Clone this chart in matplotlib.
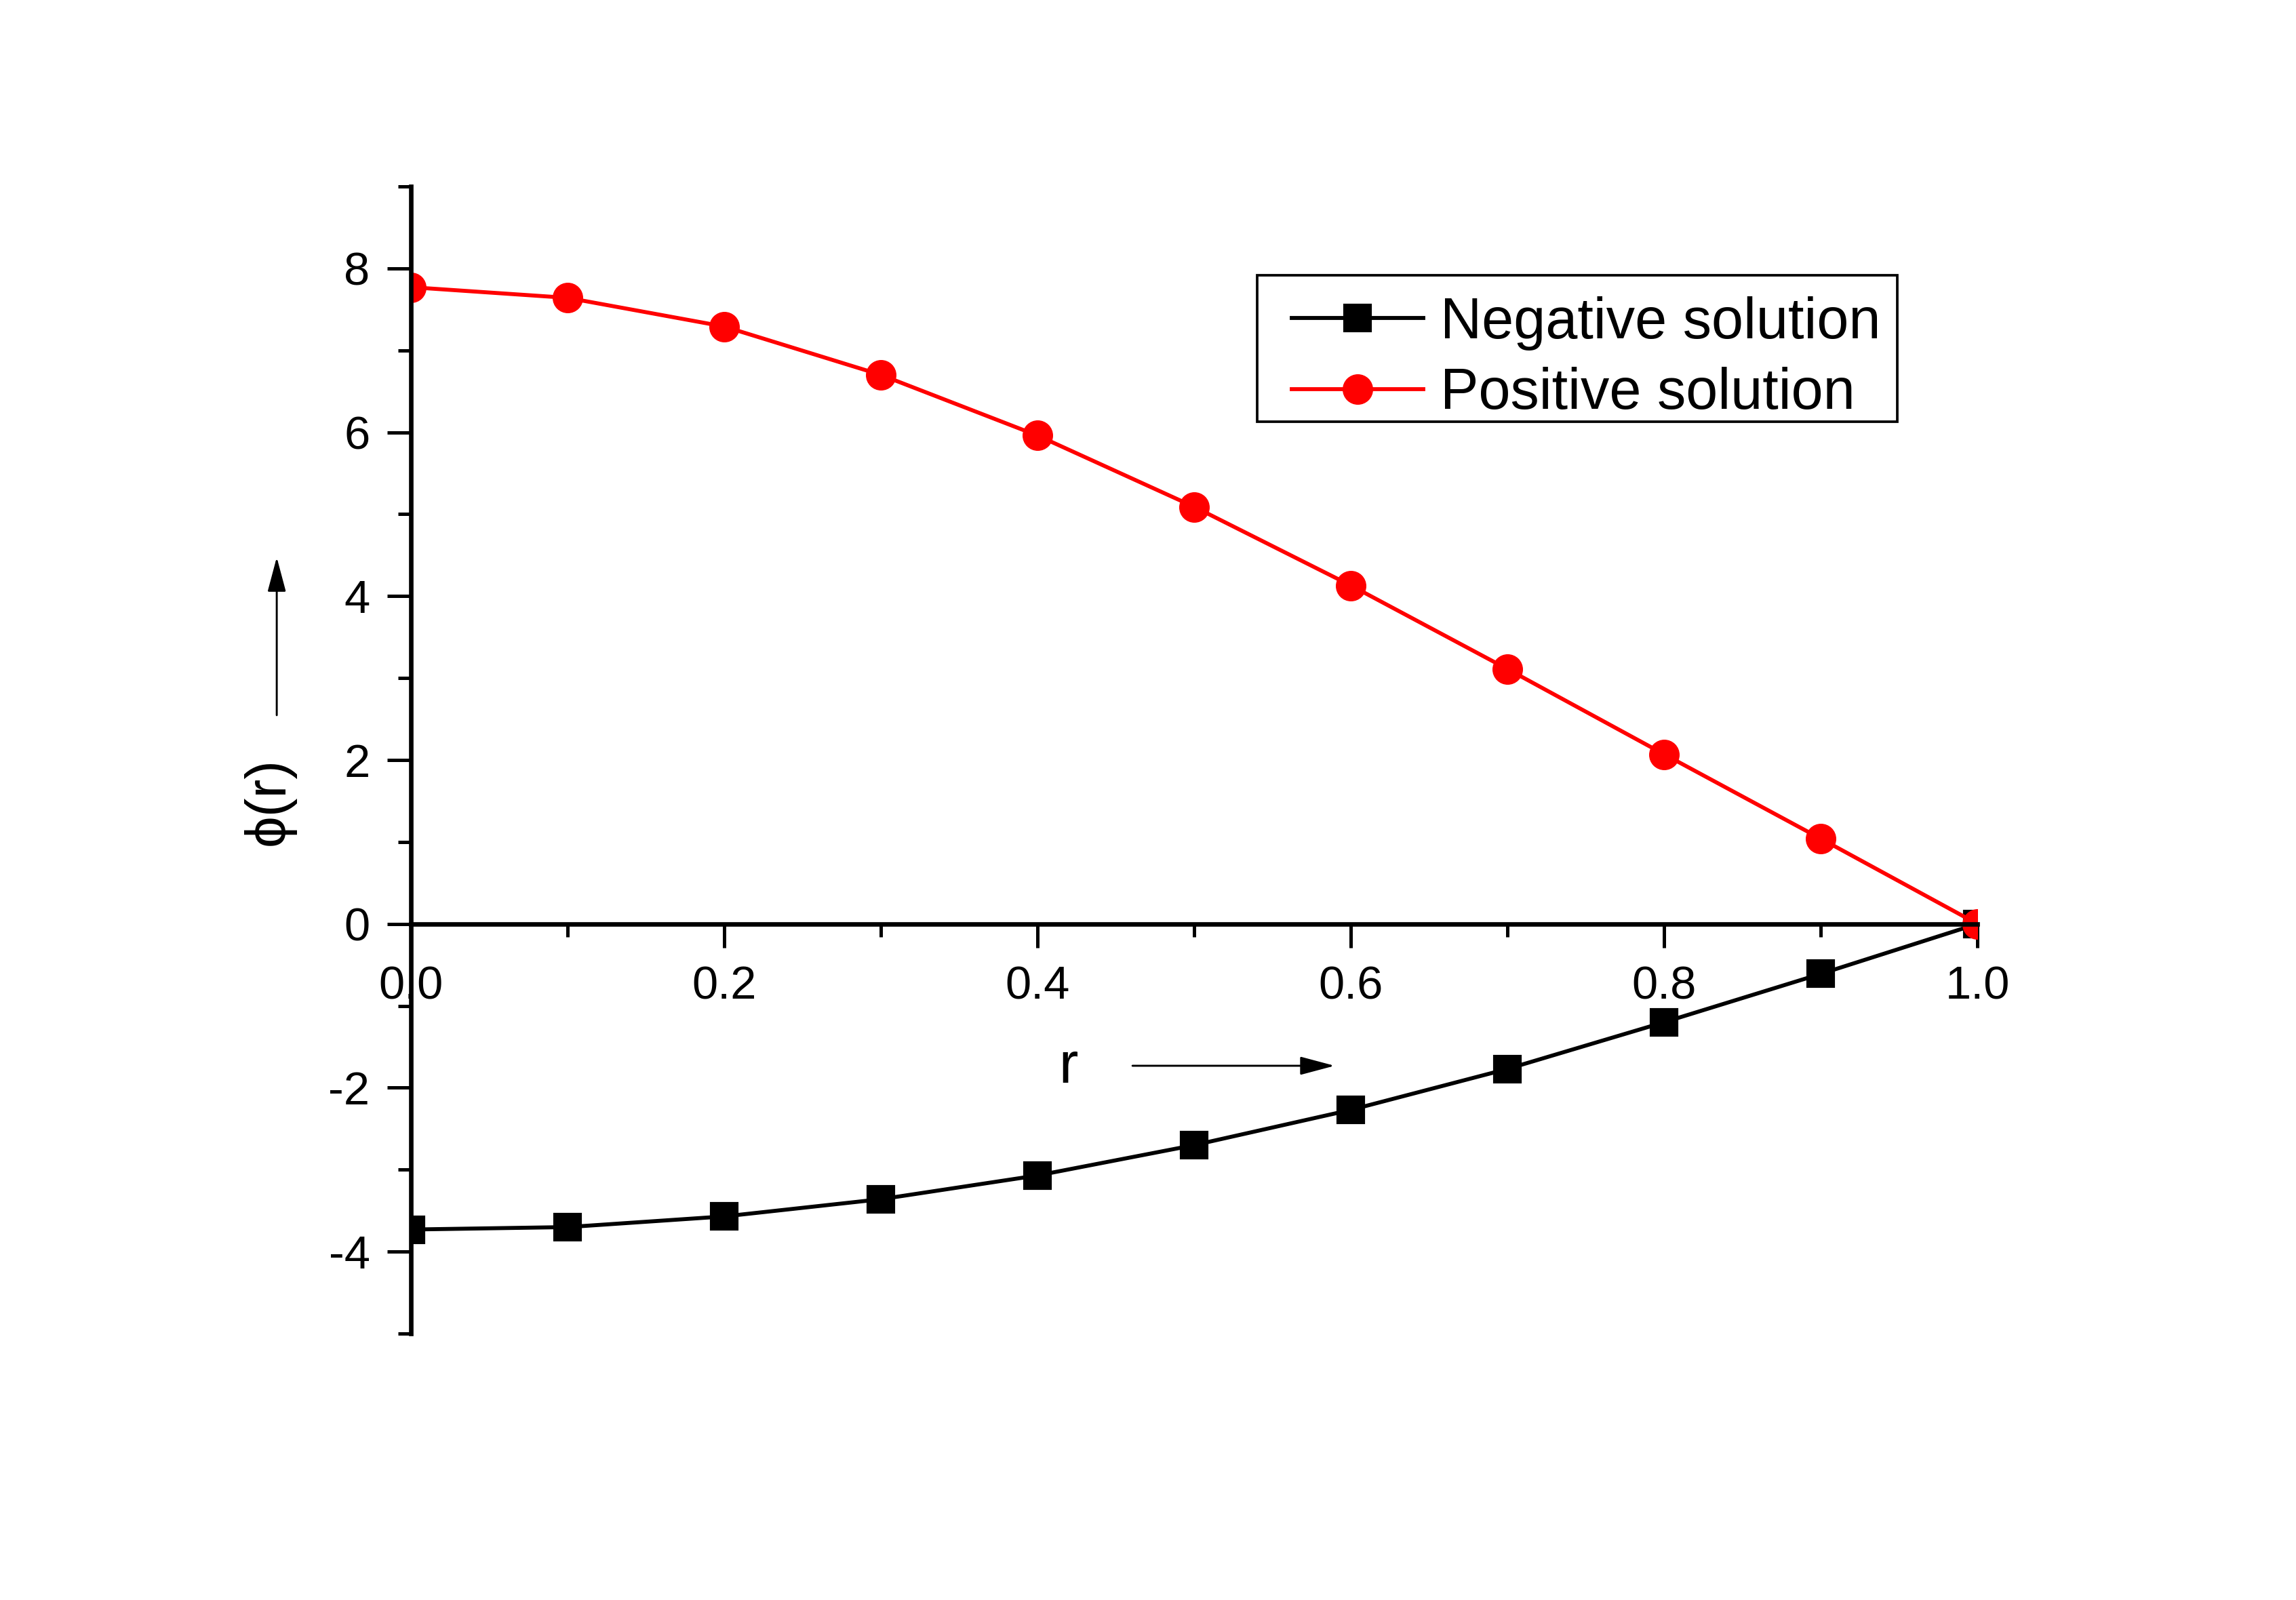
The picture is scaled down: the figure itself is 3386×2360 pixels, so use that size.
import matplotlib
matplotlib.use('Agg')
import matplotlib.pyplot as plt
from matplotlib.patches import FancyArrowPatch, Rectangle
from matplotlib.ticker import MultipleLocator

plt.rcParams['font.family'] = ['Liberation Sans', 'DejaVu Sans']
plt.rcParams['axes.unicode_minus'] = False

# values
r = [0.0, 0.1, 0.2, 0.3, 0.4, 0.5, 0.6, 0.7, 0.8, 0.9, 1.0]
phi_neg = [-3.73, -3.70, -3.57, -3.36, -3.07, -2.70, -2.27, -1.77, -1.20, -0.61, 0.0]
phi_pos = [7.77, 7.64, 7.29, 6.70, 5.96, 5.09, 4.13, 3.11, 2.07, 1.04, 0.0]
x_ticks = [0.0, 0.2, 0.4, 0.6, 0.8, 1.0]
y_ticks = [-4, -2, 0, 2, 4, 6, 8]

fig = plt.figure(figsize=(3387 / 300, 2360 / 300), dpi=300)
ax = fig.add_axes([0.1789, 0.1665, 0.8610 - 0.1789, 0.8835 - 0.1665])

ax.plot(r, phi_neg, color='black', lw=1.4, marker='s', ms=9, label='Negative solution')
ax.plot(r, phi_pos, color='red', lw=1.4, marker='o', ms=9.8, label='Positive solution')

ax.set_xlim(0, 1.0)
ax.set_ylim(-5, 9)
ax.set_xticks(x_ticks)
ax.set_xticklabels([f'{v:.1f}' for v in x_ticks])
ax.set_yticks(y_ticks)
ax.xaxis.set_minor_locator(MultipleLocator(0.1))
ax.yaxis.set_minor_locator(MultipleLocator(1))

ax.spines['top'].set_visible(False)
ax.spines['right'].set_visible(False)
ax.spines['bottom'].set_position(('data', 0))
ax.spines['left'].set_linewidth(1.6)
ax.spines['bottom'].set_linewidth(1.6)

ax.tick_params(axis='both', which='major', direction='out', length=8.5, width=1.2,
               labelsize=16.5)
ax.tick_params(axis='x', which='major', pad=6)
ax.tick_params(axis='y', which='major', pad=6)
ax.tick_params(axis='both', which='minor', direction='out', length=4.5, width=1.2)

# legend without its own frame, box drawn separately
leg = ax.legend(loc='center left', bbox_to_anchor=(0.5624, 0.7758),
                bbox_transform=fig.transFigure, fontsize=20.3, frameon=False,
                borderaxespad=0, borderpad=0, handlelength=2.29,
                handletextpad=0.3, labelspacing=0.29)
fig.add_artist(Rectangle((0.5474, 0.7364), 0.2787, 0.0916, transform=fig.transFigure,
                         fill=False, edgecolor='black', lw=0.9))

# axis labels with arrows
fig.text(0.1172, 0.4992, 'ϕ(r)', rotation=90, fontsize=20, ha='center', va='center')
fig.add_artist(FancyArrowPatch(
    (0.1205, 0.5530), (0.1205, 0.6517), transform=fig.transFigure,
    arrowstyle='-|>,head_length=10.5,head_width=2.8', color='black', lw=0.7,
    shrinkA=0, shrinkB=0))
fig.text(0.4650, 0.3233, 'r', fontsize=20.5, ha='center', va='baseline')
fig.add_artist(FancyArrowPatch(
    (0.4931, 0.3339), (0.5811, 0.3339), transform=fig.transFigure,
    arrowstyle='-|>,head_length=10.5,head_width=2.8', color='black', lw=0.7,
    shrinkA=0, shrinkB=0))

fig.savefig('out.png', dpi=300)
